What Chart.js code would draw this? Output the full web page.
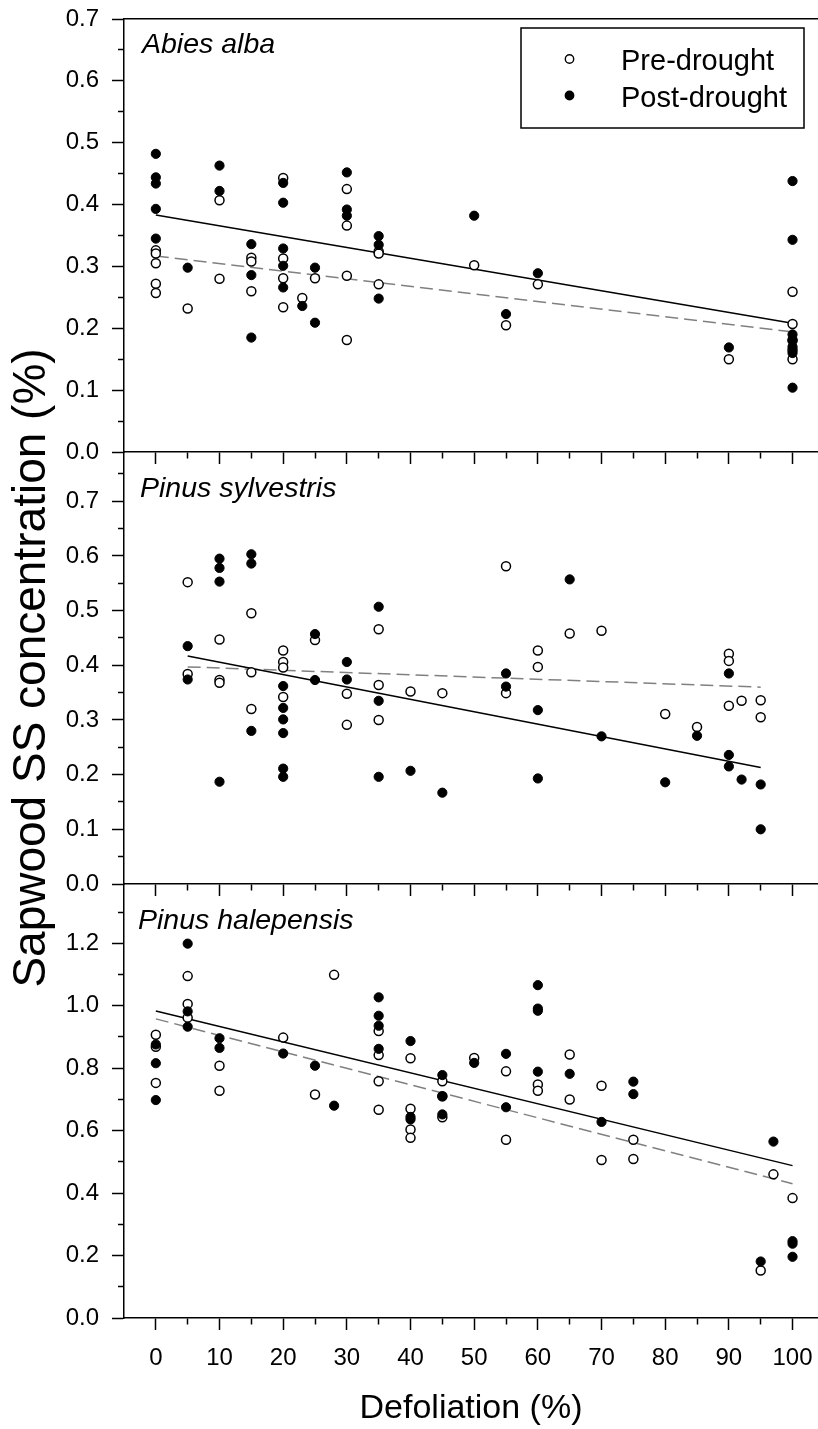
<!DOCTYPE html>
<html><head><meta charset="utf-8">
<script src="https://cdn.jsdelivr.net/npm/chart.js@4.4.0/dist/chart.umd.min.js"></script>
<style>
html,body{margin:0;padding:0;background:#fff;}
#wrap{position:relative;width:818px;height:1429px;overflow:hidden;background:#fff;}
#wrap canvas{position:absolute;left:0;}
</style></head><body>
<div id="wrap">
<canvas id="c1" width="818" height="480" style="top:0px"></canvas>
<canvas id="c2" width="818" height="1429" style="top:0px"></canvas>
<canvas id="c3" width="818" height="557" style="top:872px"></canvas>
</div>
<script>
// ---------- data ----------
const speciesNames = ['Abies alba', 'Pinus sylvestris', 'Pinus halepensis'];
const legendLabels = ['Pre-drought', 'Post-drought'];
const xTitle = 'Defoliation (%)';
const yTitle = 'Sapwood SS concentration (%)';
const xTickLabels = ['0','10','20','30','40','50','60','70','80','90','100'];

// Abies alba
const abiesPreX  = [0,0,0,0,0, 5, 10,10, 15,15,15, 20,20,20,20, 23, 25, 30,30,30,30, 35,35,35, 50, 55, 60, 90, 100,100,100,100,100];
const abiesPreY  = [0.326,0.321,0.305,0.272,0.257, 0.232, 0.407,0.280, 0.314,0.308,0.260, 0.443,0.313,0.281,0.234, 0.249, 0.281, 0.425,0.366,0.285,0.181, 0.324,0.321,0.271, 0.302, 0.205, 0.271, 0.150, 0.259,0.207,0.181,0.165,0.150];
const abiesPostX = [0,0,0,0,0, 5, 10,10, 15,15,15, 20,20,20,20,20, 23, 25,25, 30,30,30, 35,35,35, 50, 55, 60, 90, 100,100,100,100,100,100,100];
const abiesPostY = [0.482,0.444,0.434,0.393,0.345, 0.298, 0.463,0.422, 0.336,0.286,0.185, 0.435,0.403,0.329,0.301,0.266, 0.236, 0.298,0.209, 0.452,0.392,0.382, 0.349,0.335,0.248, 0.382, 0.223, 0.289, 0.169, 0.438,0.343,0.190,0.180,0.170,0.160,0.104];
const abiesFitX = [0, 100];
const abiesPreFitY = [0.317, 0.194];
const abiesPostFitY = [0.383, 0.208];

// Pinus sylvestris
const sylvPreX  = [5,5, 10,10,10, 15,15,15, 20,20,20,20, 25, 30,30, 35,35,35, 40, 45, 55,55, 60,60, 65, 70, 80, 85, 90,90,90, 92, 95,95];
const sylvPreY  = [0.552,0.384, 0.447,0.373,0.368, 0.495,0.387,0.320, 0.427,0.406,0.396,0.342, 0.446, 0.348,0.291, 0.466,0.364,0.300, 0.352, 0.349, 0.581,0.349, 0.427,0.397, 0.458, 0.463, 0.311, 0.287, 0.421,0.408,0.326, 0.335, 0.336,0.305];
const sylvPostX = [5,5, 10,10,10,10, 15,15,15, 20,20,20,20,20,20, 25,25, 30,30, 35,35,35, 40, 45, 55,55, 60,60, 65, 70, 80, 85, 90,90,90, 92, 95,95];
const sylvPostY = [0.435,0.374, 0.595,0.578,0.553,0.187, 0.603,0.586,0.280, 0.362,0.322,0.301,0.276,0.211,0.196, 0.457,0.373, 0.406,0.374, 0.507,0.335,0.196, 0.207, 0.167, 0.385,0.361, 0.318,0.193, 0.557, 0.270, 0.186, 0.271, 0.385,0.236,0.215, 0.191, 0.182,0.100];
const sylvFitX = [5, 95];
const sylvPreFitY = [0.397, 0.360];
const sylvPostFitY = [0.417, 0.213];

// Pinus halepensis
const halePreX  = [0,0,0, 5,5,5, 10,10, 20, 25, 28, 35,35,35,35, 40,40,40,40, 45,45,45, 50, 55,55, 60,60, 65,65, 70,70, 75,75, 95, 97, 100];
const halePreY  = [0.907,0.869,0.753, 1.095,1.006,0.962, 0.808,0.728, 0.898, 0.716, 1.099, 0.919,0.842,0.758,0.667, 0.832,0.670,0.604,0.577, 0.758,0.710,0.643, 0.833, 0.790,0.571, 0.748,0.728, 0.844,0.700, 0.744,0.506, 0.571,0.509, 0.152, 0.460, 0.384];
const halePostX = [0,0,0, 5,5,5, 10,10, 20, 25, 28, 35,35,35,35, 40,40,40, 45,45,45, 50, 55,55, 60,60,60,60, 65, 70, 75,75, 95, 97, 100,100,100];
const halePostY = [0.876,0.816,0.698, 1.199,0.982,0.933, 0.896,0.865, 0.847, 0.808, 0.680, 1.027,0.968,0.936,0.862, 0.887,0.644,0.636, 0.778,0.710,0.652, 0.817, 0.846,0.675, 1.066,0.991,0.984,0.789, 0.782, 0.628, 0.757,0.717, 0.181, 0.565, 0.246,0.238,0.196];
const haleFitX = [0, 100];
const halePreFitY = [0.958, 0.430];
const halePostFitY = [0.983, 0.488];

// ---------- rendering ----------
const FONT = "'Liberation Sans', Arial, Helvetica, sans-serif";
const X_MIN = -5, X_MAX = 104;
const pairs = (xs, ys) => xs.map((x, i) => ({x: x, y: ys[i]}));
const near = (v, step) => Math.abs(v / step - Math.round(v / step)) < 1e-6;
const isMajorX = v => v >= 0 && near(v, 10);
const zeroPad = s => { s.paddingLeft = 0; s.paddingRight = 0; s.paddingTop = 0; s.paddingBottom = 0; };

const decor = {
  id: 'decor',
  afterDatasetsDraw(chart, args, o) {
    const {ctx, chartArea} = chart;
    ctx.save();
    ctx.fillStyle = '#000';
    ctx.textBaseline = 'alphabetic';
    ctx.textAlign = 'left';
    ctx.font = 'italic 28.5px ' + FONT;
    ctx.fillText(o.name, chartArea.left + o.dx, chartArea.top + o.dy);
    if (o.legend) {
      const L = o.legend;
      ctx.fillStyle = '#fff';
      ctx.fillRect(L.x, L.y, L.w, L.h);
      ctx.strokeStyle = '#000';
      ctx.lineWidth = 1.5;
      ctx.strokeRect(L.x, L.y, L.w, L.h);
      ctx.font = '29px ' + FONT;
      for (let i = 0; i < legendLabels.length; i++) {
        const cy = L.y + 31 + i * 36.5;
        ctx.beginPath();
        ctx.arc(L.x + 48.5, cy, 4.2, 0, Math.PI * 2);
        ctx.fillStyle = i === 0 ? '#fff' : '#000';
        ctx.fill();
        ctx.lineWidth = 1.4;
        ctx.strokeStyle = '#000';
        ctx.stroke();
        ctx.fillStyle = '#000';
        ctx.fillText(legendLabels[i], L.x + 100, cy + 11);
      }
    }
    ctx.restore();
  }
};

function buildPanel(id, p) {
  const isMajorY = v => near(v, p.yMajor);
  const scales = {
    x: {
      type: 'linear', position: 'bottom', min: X_MIN, max: X_MAX,
      ticks: {
        stepSize: 5, includeBounds: false, autoSkip: false, maxRotation: 0, minRotation: 0,
        display: p.showXLabels, padding: 14, color: '#000',
        font: {family: FONT, size: 24},
        callback: v => isMajorX(v) ? xTickLabels[Math.round(v / 10)] : ''
      },
      grid: {
        display: true, drawOnChartArea: false, drawTicks: true, tickLength: 12, tickWidth: 1.5,
        tickColor: c => (c.tick && c.tick.value < 0) ? 'rgba(0,0,0,0)' : '#000',
        tickBorderDash: c => (c.tick && isMajorX(c.tick.value)) ? [] : [6, 100]
      },
      border: {display: true, color: '#000', width: 1.5},
      title: {display: p.showXLabels, text: xTitle, color: '#000',
              font: {family: FONT, size: 34}, padding: {top: 0, bottom: 0}},
      afterFit: s => { s.height = p.xAxisHeight; zeroPad(s); }
    },
    y: {
      type: 'linear', position: 'left', min: 0, max: p.yMax,
      ticks: {
        stepSize: p.yStep, includeBounds: false, autoSkip: false, padding: 13, color: '#000',
        font: {family: FONT, size: 24},
        callback: v => isMajorY(v) ? v.toFixed(1) : ''
      },
      grid: {
        display: true, drawOnChartArea: false, drawTicks: true, tickLength: 12, tickWidth: 1.5,
        tickColor: '#000',
        tickBorderDash: c => (c.tick && isMajorY(c.tick.value)) ? [] : [6, 6],
        tickBorderDashOffset: c => (c.tick && isMajorY(c.tick.value)) ? 0 : 6
      },
      border: {display: true, color: '#000', width: 1.5},
      title: {display: p.showYTitle, text: yTitle, color: '#000',
              font: {family: FONT, size: 46}, padding: {top: 5, bottom: 0}},
      afterFit: s => { s.width = 124; zeroPad(s); }
    }
  };
  if (p.topBorder) {
    scales.xTop = {
      type: 'linear', position: 'top', min: X_MIN, max: X_MAX,
      ticks: {display: false},
      grid: {display: false, drawTicks: false},
      border: {display: true, color: '#000', width: 1.5},
      afterFit: s => { s.height = 0; zeroPad(s); }
    };
  }
  const openPt = {pointStyle: 'circle', pointRadius: 4.5, pointHoverRadius: 4.5,
                  pointBackgroundColor: '#fff', pointBorderColor: '#000', pointBorderWidth: 1.5, showLine: false};
  const fillPt = {pointStyle: 'circle', pointRadius: 4.6, pointHoverRadius: 4.6,
                  pointBackgroundColor: '#000', pointBorderColor: '#000', pointBorderWidth: 1, showLine: false};
  return new Chart(document.getElementById(id), {
    type: 'scatter',
    data: {
      datasets: [
        Object.assign({label: legendLabels[1], data: pairs(p.postX, p.postY), order: 0}, fillPt),
        Object.assign({label: legendLabels[0], data: pairs(p.preX, p.preY), order: 1}, openPt),
        {type: 'line', label: 'post fit', data: pairs(p.fitX, p.postFitY), order: 2,
         borderColor: '#000', borderWidth: 1.5, pointRadius: 0, fill: false, showLine: true},
        {type: 'line', label: 'pre fit', data: pairs(p.fitX, p.preFitY), order: 3,
         borderColor: '#808080', borderWidth: 1.5, borderDash: [13, 6], pointRadius: 0, fill: false, showLine: true}
      ]
    },
    options: {
      responsive: false, animation: false, devicePixelRatio: 1,
      layout: {autoPadding: false, padding: {top: p.padTop, left: 0, right: 0, bottom: 0}},
      scales: scales,
      plugins: {
        legend: {display: false}, tooltip: {enabled: false}, title: {display: false},
        decor: {name: p.name, dx: p.labelDx, dy: p.labelDy, legend: p.legend || null}
      }
    },
    plugins: [decor]
  });
}

buildPanel('c1', {
  name: speciesNames[0], preX: abiesPreX, preY: abiesPreY, postX: abiesPostX, postY: abiesPostY,
  fitX: abiesFitX, preFitY: abiesPreFitY, postFitY: abiesPostFitY,
  yMax: 0.7, yStep: 0.05, yMajor: 0.1, showXLabels: false, showYTitle: false, topBorder: true,
  padTop: 19, xAxisHeight: 480 - 19 - 433, labelDx: 18, labelDy: 34,
  legend: {x: 521, y: 28, w: 283, h: 100}
});
buildPanel('c2', {
  name: speciesNames[1], preX: sylvPreX, preY: sylvPreY, postX: sylvPostX, postY: sylvPostY,
  fitX: sylvFitX, preFitY: sylvPreFitY, postFitY: sylvPostFitY,
  yMax: 0.79, yStep: 0.05, yMajor: 0.1, showXLabels: false, showYTitle: true, topBorder: false,
  padTop: 452, xAxisHeight: 1429 - 452 - 432, labelDx: 16, labelDy: 45
});
buildPanel('c3', {
  name: speciesNames[2], preX: halePreX, preY: halePreY, postX: halePostX, postY: halePostY,
  fitX: haleFitX, preFitY: halePreFitY, postFitY: halePostFitY,
  yMax: 1.39, yStep: 0.1, yMajor: 0.2, showXLabels: true, showYTitle: false, topBorder: false,
  padTop: 12, xAxisHeight: 557 - 12 - 434, labelDx: 14, labelDy: 45
});
</script>
</body></html>
